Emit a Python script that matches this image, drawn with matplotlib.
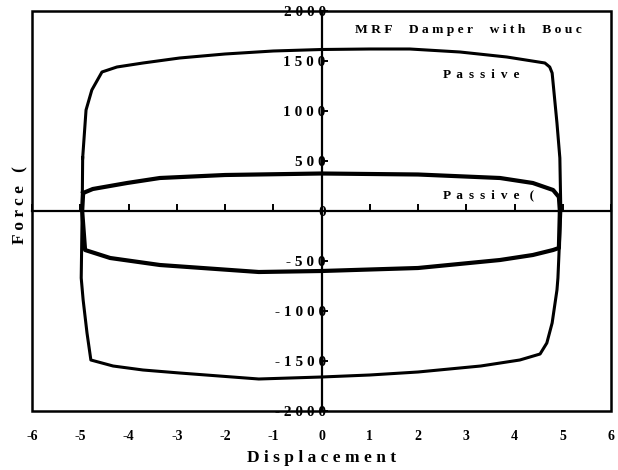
import matplotlib
matplotlib.use("Agg")
import matplotlib.pyplot as plt
from matplotlib.patches import Rectangle
from matplotlib.ticker import FuncFormatter

# big loop (Passive on), clockwise from the left side
big_x = [-4.95, -4.88, -4.76, -4.55, -4.24, -3.7, -2.94, -2.0, -1.0, 0.0, 1.0, 1.83,
         2.87, 3.84, 4.63, 4.73, 4.78, 4.88, 4.94, 4.96, 4.9, 4.88, 4.78, 4.67, 4.53,
         4.11, 3.3, 2.0, 1.0, 0.0, -1.3, -2.94, -3.7, -4.32, -4.78, -4.86, -4.94,
         -4.98, -4.96, -4.95]
big_y = [530, 1010, 1210, 1390, 1440, 1480, 1530, 1570, 1600, 1615, 1620, 1620,
         1590, 1540, 1480, 1440, 1380, 880, 530, 0, -670, -790, -1120, -1320, -1430,
         -1490, -1550, -1610, -1640, -1660, -1680, -1620, -1590, -1550, -1490, -1220,
         -890, -670, 0, 530]

# small loop (Passive off)
small_x = [-4.94, -4.74, -4.03, -3.35, -2.0, 0.0, 2.0, 3.7, 4.38, 4.8, 4.92, 4.94,
           4.92, 4.8, 4.38, 3.7, 2.0, 0.0, -1.3, -3.35, -4.38, -4.9, -4.96, -4.94]
small_y = [180, 220, 280, 330, 360, 375, 365, 330, 280, 210, 140, 0,
           -370, -390, -440, -490, -570, -600, -610, -540, -470, -390, 0, 180]

x_ticks = [-6, -5, -4, -3, -2, -1, 0, 1, 2, 3, 4, 5, 6]
y_ticks = [-2000, -1500, -1000, -500, 0, 500, 1000, 1500, 2000]

FONT = ['Liberation Serif', 'DejaVu Serif']


def spaced(s, sep=' '):
    return sep.join(s)


def spaced_words(s, sep=' ', gap='     '):
    return gap.join(spaced(w, sep) for w in s.split())


fig = plt.figure(figsize=(6.18, 4.70), dpi=100)
ax = fig.add_axes([32 / 618, 59 / 470, 579 / 618, 400 / 470])

ax.plot(big_x, big_y, color='black', lw=2.2, solid_joinstyle='round')
ax.plot(small_x, small_y, color='black', lw=3.0, solid_joinstyle='round')

ax.set_xlim(-6, 6)
ax.set_ylim(-2000, 2000)
ax.set_xticks(x_ticks)
ax.set_yticks(y_ticks)

# axes cross at the origin, box around the plot area
for side in ['bottom', 'right']:
    ax.spines[side].set_visible(False)
ax.spines['left'].set_position(('data', 0))
ax.spines['top'].set_position(('data', 0))
ax.spines['left'].set_linewidth(1.6)
ax.spines['top'].set_linewidth(1.6)
ax.add_patch(Rectangle((0, 0), 1, 1, transform=ax.transAxes, fill=False,
                       lw=1.8, edgecolor='black', clip_on=False, zorder=5))

ax.tick_params(axis='x', bottom=False, top=True, labelbottom=True, labeltop=False,
               direction='out', length=5, width=1.4, pad=9)
ax.tick_params(axis='y', left=True, right=False, labelleft=True,
               direction='in', length=4, width=1.4, pad=-3)

ax.xaxis.set_major_formatter(FuncFormatter(lambda v, p: '%d' % v))
ax.yaxis.set_major_formatter(FuncFormatter(lambda v, p: spaced('%d' % v)))
for lab in ax.get_xticklabels():
    lab.set_fontfamily(FONT)
    lab.set_fontweight('bold')
    lab.set_fontsize(10)
for lab in ax.get_yticklabels():
    lab.set_fontfamily(FONT)
    lab.set_fontweight('bold')
    lab.set_fontsize(11)

ax.set_xlabel(spaced('Displacement'), fontfamily=FONT, fontweight='bold',
              fontsize=12.5, labelpad=5)
fig.text(20 / 618, 1 - 205 / 470, spaced('Force') + '   (', rotation=90,
         ha='center', va='center', fontfamily=FONT, fontweight='bold', fontsize=12.5)

ax.text(355 / 618, 1 - 30 / 470, spaced_words('MRF Damper with Bouc'),
        transform=fig.transFigure, ha='left', va='center', fontfamily=FONT,
        fontweight='bold', fontsize=9.7)
ax.text(443 / 618, 1 - 75 / 470, spaced('Passive', ' \u2009'),
        transform=fig.transFigure, ha='left', va='center', fontfamily=FONT,
        fontweight='bold', fontsize=9.5)
ax.text(443 / 618, 1 - 195 / 470, spaced('Passive', ' \u2009') + '   (',
        transform=fig.transFigure, ha='left', va='center', fontfamily=FONT,
        fontweight='bold', fontsize=9.5)

fig.savefig('out.png', dpi=100)
